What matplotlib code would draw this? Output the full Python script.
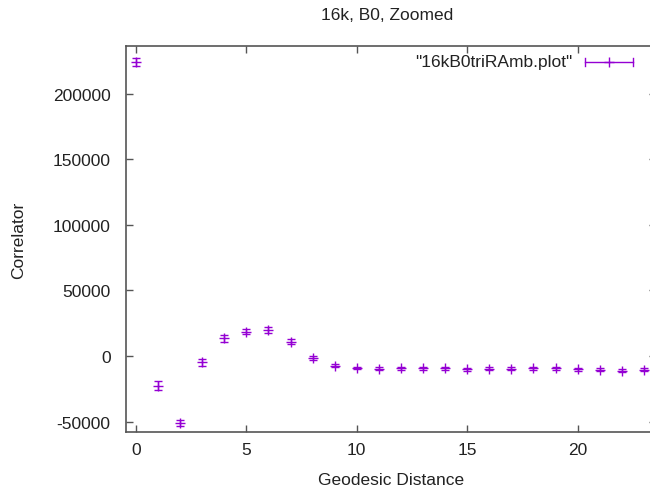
import matplotlib.pyplot as plt

plt.rcParams['font.family'] = ['Liberation Sans', 'DejaVu Sans']
plt.rcParams['axes.unicode_minus'] = False

# Correlator vs geodesic distance, 16k B0 run
distance = list(range(24))
correlator = [224000, -22600, -51100, -4800, 13500, 18600, 19800, 10900,
              -1500, -7400, -9200, -9700, -9400, -9400, -9400, -10200,
              -9700, -9700, -9400, -9400, -10200, -10400, -11200, -10400]
errors = [3000, 3500, 2500, 2500, 2500, 2200, 2000, 1800,
          1200, 1000, 1000, 1000, 1000, 1000, 1000, 1000,
          1000, 1000, 1000, 1000, 1000, 1000, 1000, 1000]

color = "#9400D3"
fs = 12.5

fig = plt.figure(figsize=(6.5, 4.89), dpi=100)
ax = fig.add_axes([126 / 650, 1 - 433 / 489, 530 / 650, 386 / 489])

ax.errorbar(distance, correlator, yerr=errors, fmt='+', color=color,
            markersize=7, elinewidth=1, capsize=3, capthick=1, mew=1)

ax.set_xlim(-0.45, 23.55)
ax.set_ylim(-58000, 236500)
ax.set_xticks([0, 5, 10, 15, 20])
ax.set_yticks([-50000, 0, 50000, 100000, 150000, 200000])

ax.tick_params(direction='in', top=True, right=True, length=5, width=1,
               labelsize=fs, colors='#222222')
ax.tick_params(axis='both', color='#555555')
ax.tick_params(axis='y', pad=11)
ax.tick_params(axis='x', pad=7)
for s in ax.spines.values():
    s.set_color('#555555')
    s.set_linewidth(1.2)

ax.set_xlabel('Geodesic Distance', fontsize=fs, labelpad=11, color='#222222')
ax.set_ylabel('Correlator', fontsize=fs, color='#222222')
ax.yaxis.set_label_coords(-(126 - 26) / 530, 0.5)
fig.text(387 / 650, 1 - 16 / 489, '16k, B0, Zoomed', fontsize=fs, ha='center',
         va='center', color='#222222')

# gnuplot-style key: label plus horizontal errorbar sample
ky = 1 - (63 - 47) / 386
ax.text((572 - 126) / 530, ky, '"16kB0triRAmb.plot"',
        transform=ax.transAxes, ha='right', va='center', fontsize=fs,
        color='#222222')
kx0, kx1 = (585 - 126) / 530, (633 - 126) / 530
ax.plot([kx0, kx1], [ky, ky], color=color, lw=1, transform=ax.transAxes,
        clip_on=False)
for kx in (kx0, kx1):
    ax.plot([kx, kx], [ky - 0.01, ky + 0.01], color=color, lw=1,
            transform=ax.transAxes, clip_on=False)
ax.plot([(kx0 + kx1) / 2], [ky], '+', color=color, markersize=7, mew=1,
        transform=ax.transAxes, clip_on=False)

fig.savefig('out.png', dpi=100)
